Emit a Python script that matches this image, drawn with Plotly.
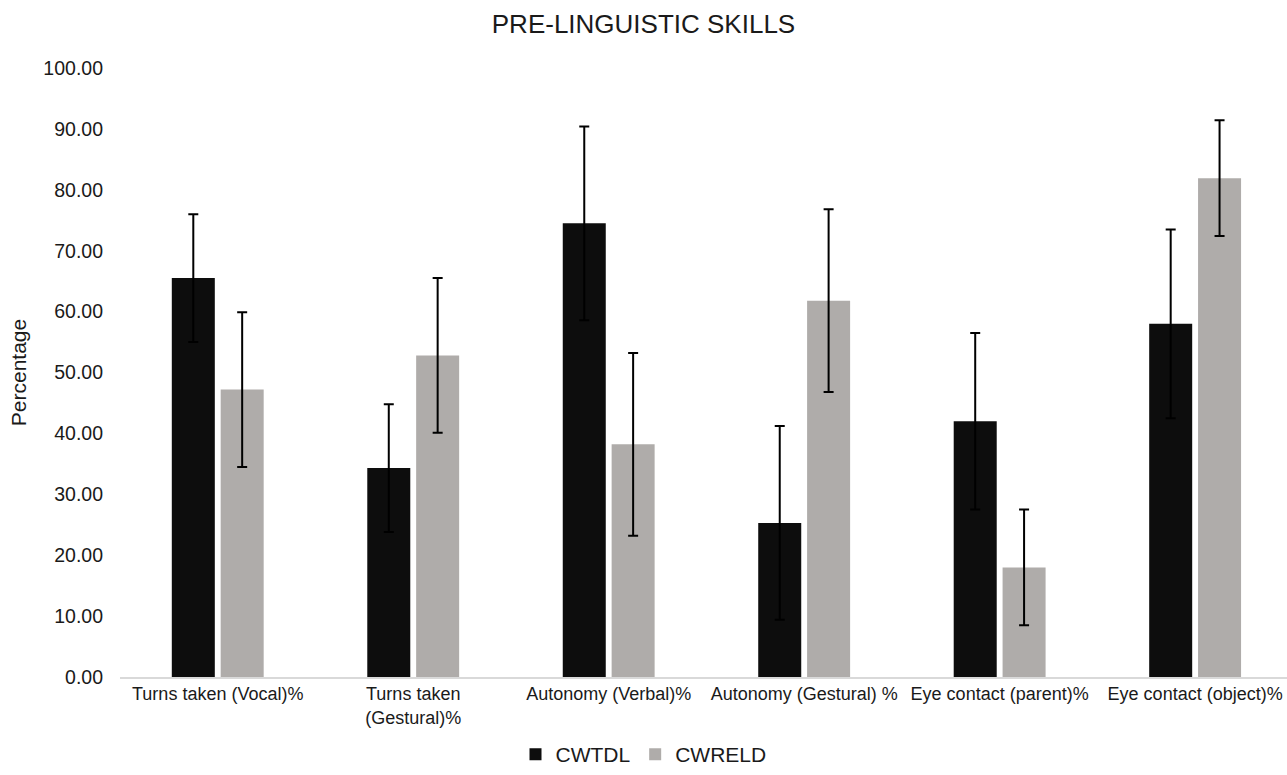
import plotly.graph_objects as go

# Pre-linguistic skill measures (percent) with standard-deviation error bars
categories = [
    "Turns taken (Vocal)%",
    "Turns taken<br>(Gestural)%",
    "Autonomy (Verbal)%",
    "Autonomy (Gestural) %",
    "Eye contact (parent)%",
    "Eye contact (object)%",
]
cwtdl = [65.5, 34.3, 74.5, 25.3, 42.0, 58.0]
cwtdl_err = [10.5, 10.5, 15.9, 15.9, 14.5, 15.5]
cwreld = [47.2, 52.8, 38.2, 61.8, 18.0, 81.9]
cwreld_err = [12.7, 12.7, 15.0, 15.0, 9.5, 9.5]
y_ticks = [0, 10, 20, 30, 40, 50, 60, 70, 80, 90, 100]

FONT = "Liberation Sans, Arial, sans-serif"
TEXT = "#1a1a1a"
err_style = dict(type="data", color="#000000", thickness=2, width=5)

fig = go.Figure()
fig.add_trace(go.Bar(
    name="CWTDL", x=categories, y=cwtdl,
    marker=dict(color="#0d0d0d", line=dict(width=0)),
    error_y=dict(array=cwtdl_err, **err_style),
))
fig.add_trace(go.Bar(
    name="CWRELD", x=categories, y=cwreld,
    marker=dict(color="#afacaa", line=dict(width=0)),
    error_y=dict(array=cwreld_err, **err_style),
))

fig.update_layout(
    width=1287, height=775,
    margin=dict(l=120, r=0, t=68, b=98),
    paper_bgcolor="white", plot_bgcolor="white",
    barmode="group", bargap=0.5, bargroupgap=0.12,
    font=dict(family=FONT, color=TEXT),
    title=dict(
        text="PRE-LINGUISTIC SKILLS",
        x=0.5, xref="container", xanchor="center",
        y=1 - 24 / 775, yref="container", yanchor="middle",
        font=dict(size=26, color=TEXT),
    ),
    showlegend=True,
    legend=dict(
        orientation="h", x=0.5, xref="container", xanchor="center",
        y=-5 / 775, yref="container", yanchor="bottom",
        font=dict(size=21, color=TEXT),
        itemwidth=30, traceorder="normal",
    ),
    xaxis=dict(
        range=[-0.5, 5.47],
        showline=True, linecolor="#d9d9d9", linewidth=1.5,
        showgrid=False, ticks="",
        tickfont=dict(size=18, color=TEXT),
    ),
    yaxis=dict(
        range=[0, 100], tickvals=y_ticks,
        ticktext=[f"{v:.2f}" for v in y_ticks],
        showgrid=False, zeroline=False, showline=False,
        ticks="", ticklen=0, ticklabelstandoff=16,
        tickfont=dict(size=19.5, color=TEXT),
        title=dict(text="Percentage", font=dict(size=21, color=TEXT), standoff=10),
    ),
)

fig.write_html("out.html")
